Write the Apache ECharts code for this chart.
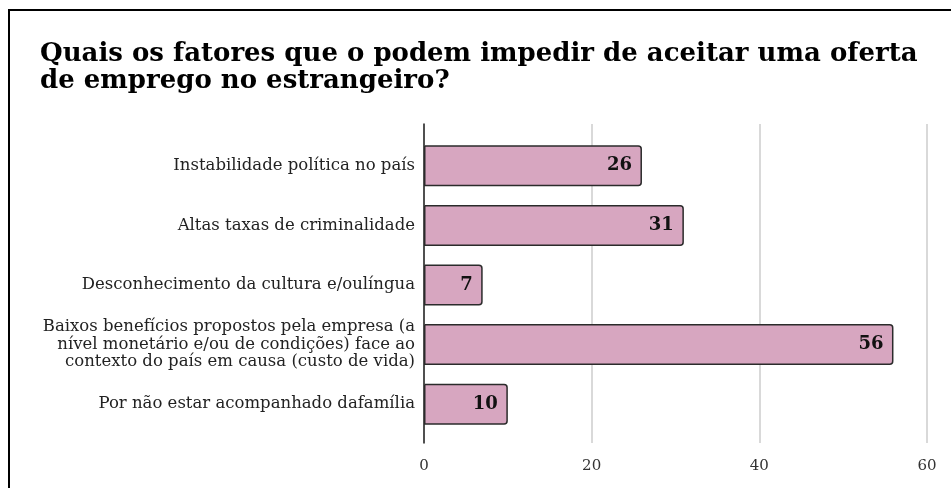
<!DOCTYPE html>
<html>
<head>
  <meta charset="utf-8">
  <style>
    html, body { margin: 0; padding: 0; width: 100%; height: 100%; background: #fff; overflow: hidden; }
    #container { width: 951px; height: 488px; }
  </style>
</head>
<body>
  <div id="container"></div>
  <script src="https://cdn.jsdelivr.net/npm/echarts@6/dist/echarts.min.js"></script>
  <script>
    // dados
    var categories = [
      'Instabilidade política no país',
      'Altas taxas de criminalidade',
      'Desconhecimento da cultura e/oulíngua',
      'Baixos benefícios propostos pela empresa (a\nnível monetário e/ou de condições) face ao\ncontexto do país em causa (custo de vida)',
      'Por não estar acompanhado dafamília'
    ];
    var values = [26, 31, 7, 56, 10];
    var xTicks = [0, 20, 40, 60];

    var serif = '"DejaVu Serif", "Liberation Serif", serif';
    var chart = echarts.init(document.getElementById('container'));

    chart.setOption({
      animation: false,
      backgroundColor: '#fff',
      title: {
        text: 'Quais os fatores que o podem impedir de aceitar uma oferta\nde emprego no estrangeiro?',
        left: 35,
        top: 36,
        textStyle: {
          fontFamily: serif,
          fontWeight: 'bold',
          fontSize: 26,
          lineHeight: 27,
          color: '#000'
        }
      },
      graphic: [{
        type: 'rect',
        shape: { x: 9, y: 10, width: 960, height: 500 },
        style: { fill: 'none', stroke: '#000', lineWidth: 2 },
        silent: true
      }],
      grid: [
        // grade das linhas e eixo (mais alta)
        { left: 424, right: 24, top: 124, bottom: 45 },
        // grade das barras
        { left: 424, right: 24, top: 136, height: 298 }
      ],
      xAxis: [{
        gridIndex: 0,
        type: 'value',
        min: 0,
        max: 60,
        interval: 20,
        axisLine: { show: false },
        axisTick: { show: false },
        splitLine: { show: true, lineStyle: { color: '#cccccc', width: 1.5 } },
        axisLabel: {
          margin: 16,
          color: '#333',
          fontFamily: serif,
          fontSize: 15,
          customValues: xTicks
        }
      }, {
        gridIndex: 1,
        type: 'value',
        min: 0,
        max: 60,
        show: false
      }],
      yAxis: [{
        gridIndex: 0,
        type: 'value',
        min: 0,
        max: 1,
        axisLine: { show: true, lineStyle: { color: '#222', width: 1.5 } },
        axisTick: { show: false },
        axisLabel: { show: false },
        splitLine: { show: false }
      }, {
        gridIndex: 1,
        type: 'category',
        inverse: true,
        data: categories,
        axisLine: { show: false },
        axisTick: { show: false },
        axisLabel: {
          margin: 9,
          color: '#222',
          fontFamily: serif,
          fontSize: 16.5,
          lineHeight: 17.5,
          align: 'right'
        }
      }],
      series: [{
        type: 'bar',
        xAxisIndex: 1,
        yAxisIndex: 1,
        data: values,
        barWidth: 41,
        itemStyle: {
          color: '#d7a6c0',
          borderColor: '#2b2b2b',
          borderWidth: 1.5,
          borderRadius: [0, 3, 3, 0]
        },
        label: {
          show: true,
          position: 'insideRight',
          distance: 10,
          color: '#111',
          fontFamily: serif,
          fontWeight: 'bold',
          fontSize: 18
        }
      }]
    });
  </script>
</body>
</html>
